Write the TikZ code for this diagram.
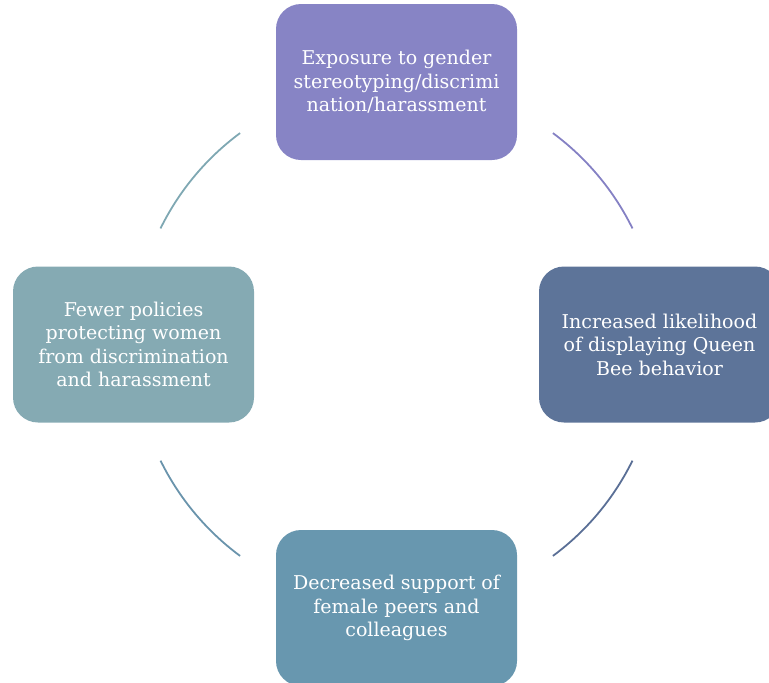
\documentclass[tikz,border=0pt]{standalone}
\usepackage{fontspec}
\setmainfont{DejaVu Serif}
\definecolor{boxA}{HTML}{8784C5}
\definecolor{boxB}{HTML}{5D7499}
\definecolor{boxC}{HTML}{6897AF}
\definecolor{boxD}{HTML}{85AAB3}
\definecolor{arcA}{HTML}{8581C4}
\definecolor{arcB}{HTML}{5A6F96}
\definecolor{arcC}{HTML}{6A94AC}
\definecolor{arcD}{HTML}{7FA8B3}
\tikzset{
  stage/.style={rectangle, rounded corners=25pt, minimum width=241pt, minimum height=156pt,
    inner sep=0pt, text=white, align=center,
    font=\fontsize{19}{23.5}\selectfont},
  link/.style={line width=1.8pt}
}
\begin{document}
\begin{tikzpicture}[x=1pt,y=-1pt]
  \useasboundingbox (0,0) rectangle (769,683);
  \clip (0,0) rectangle (769,683);
  \node[stage, fill=boxA] (expo) at (396.5,82) {Exposure to gender\\stereotyping/discrimi\\nation/harassment};
  \node[stage, fill=boxB] (queen) at (659.5,344.5) {Increased likelihood\\of displaying Queen\\Bee behavior};
  \node[stage, fill=boxC] (supp) at (396.5,608) {Decreased support of\\female peers and\\colleagues};
  \node[stage, fill=boxD] (policy) at (133.5,344.5) {Fewer policies\\protecting women\\from discrimination\\and harassment};
  \coordinate (ctr) at (396.5,344.5);
  % arcs of the cycle, y axis points down so angles are mirrored
  \draw[link, arcA] ([shift={(-53.5:263)}]ctr) arc[start angle=-53.5, end angle=-26.2, radius=263];
  \draw[link, arcB] ([shift={(26.2:263)}]ctr) arc[start angle=26.2, end angle=53.5, radius=263];
  \draw[link, arcC] ([shift={(126.5:263)}]ctr) arc[start angle=126.5, end angle=153.8, radius=263];
  \draw[link, arcD] ([shift={(-153.8:263)}]ctr) arc[start angle=-153.8, end angle=-126.5, radius=263];
\end{tikzpicture}
\end{document}
